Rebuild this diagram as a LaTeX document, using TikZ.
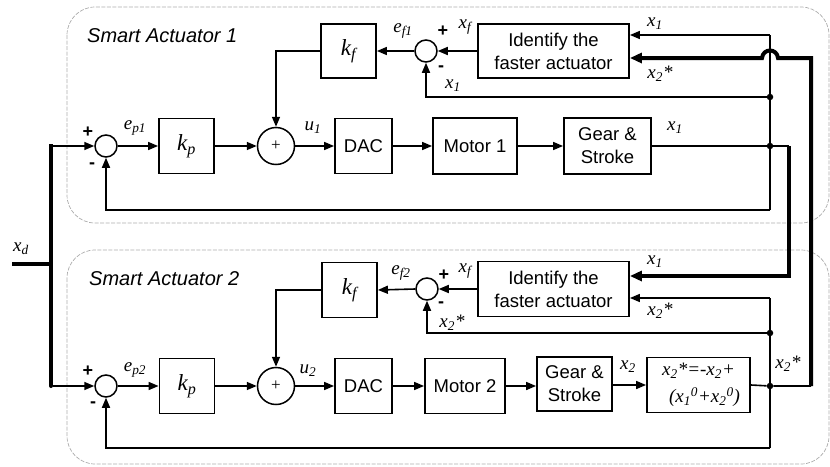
\documentclass[tikz,border=0pt]{standalone}
\usepackage{fontspec}
\setmainfont{Liberation Serif}
\setsansfont{Liberation Sans}
\usetikzlibrary{arrows.meta}
\tikzset{
  blk/.style={draw, line width=1.8pt, inner sep=0pt, align=center,
    font=\sffamily\fontsize{18.5}{23}\selectfont},
  kblk/.style={blk, font=\itshape\fontsize{23}{25}\selectfont},
  sumc/.style={draw, circle, line width=1.5pt, minimum size=22pt, inner sep=0pt},
  bigsum/.style={draw, circle, line width=1.5pt, minimum size=37pt, inner sep=0pt,
    font=\fontsize{17}{17}\selectfont},
  wire/.style={line width=1.6pt},
  sig/.style={wire, -{Triangle[length=10pt,width=8pt]}},
  bus/.style={line width=4pt},
  busarrow/.style={bus, -{Triangle[length=12pt,width=10pt]}},
  lab/.style={inner sep=0pt, font=\itshape\fontsize{19}{21}\selectfont},
  sgn/.style={inner sep=0pt, font=\sffamily\bfseries\fontsize{18}{20}\selectfont},
  title/.style={inner sep=0pt, anchor=west, font=\sffamily\itshape\fontsize{20}{22}\selectfont},
  grp/.style={draw=gray!65, line width=0.7pt, dash pattern=on 4pt off 1.5pt, rounded corners=28pt},
  jdot/.style={circle, fill, inner sep=0pt, minimum size=6.5pt},
  sdot/.style={circle, fill, inner sep=0pt, minimum size=4pt},
}
\begin{document}
\begin{tikzpicture}[x=1pt, y=-1pt]
\useasboundingbox (0,0) rectangle (830,466);

% groups
\draw[grp] (67,7) rectangle (829,223);
\draw[grp] (67,250) rectangle (829,464);
\node[title] (t1) at (87,36) {Smart Actuator 1};
\node[title] (t2) at (89,279) {Smart Actuator 2};

% ---------------- Actuator 1 ----------------
\node[sumc] (sA) at (106,146) {};
\node[kblk, minimum width=55pt, minimum height=55pt] (kpA) at (186.5,146) {k\textsubscript{p}};
\node[bigsum] (gA) at (276,146) {+};
\node[blk, minimum width=57pt, minimum height=55pt] (dacA) at (363.5,146) {DAC};
\node[blk, minimum width=84pt, minimum height=56pt] (motA) at (475,146) {Motor 1};
\node[blk, minimum width=87pt, minimum height=56pt] (gearA) at (607.5,146) {Gear \&\\Stroke};
\node[kblk, minimum width=55pt, minimum height=54pt] (kfA) at (348.5,51) {k\textsubscript{f}};
\node[sumc] (sfA) at (426,51) {};
\node[blk, minimum width=151pt, minimum height=54pt] (idA) at (553.5,51) {Identify the\\faster actuator};
\node[jdot] (jA1) at (770,146) {};
\node[jdot] (jA2) at (770,97) {};
\coordinate (topA) at (770,35);
\coordinate (botA) at (770,210);
\coordinate (busA) at (789,146);
\coordinate (inA) at (629,58);

% ---------------- Actuator 2 ----------------
\node[sumc] (sB) at (106,386) {};
\node[kblk, minimum width=55pt, minimum height=55pt] (kpB) at (187,386) {k\textsubscript{p}};
\node[bigsum] (gB) at (276,386) {+};
\node[blk, minimum width=57pt, minimum height=55pt] (dacB) at (363.5,386) {DAC};
\node[blk, minimum width=80pt, minimum height=55pt] (motB) at (465,386) {Motor 2};
\node[blk, minimum width=75pt, minimum height=54pt] (gearB) at (574.5,384) {Gear \&\\Stroke};
\node[blk, minimum width=103pt, minimum height=55pt, font=\itshape\fontsize{19}{27}\selectfont] (fmB) at (698.5,385)
  {x\textsubscript{2}*=-x\textsubscript{2}+\\\hspace*{12pt}(x\textsubscript{1}\textsuperscript{0}+x\textsubscript{2}\textsuperscript{0})};
\node[kblk, minimum width=55pt, minimum height=55pt] (kfB) at (349.5,290) {k\textsubscript{f}};
\node[sumc] (sfB) at (427,289) {};
\node[blk, minimum width=151pt, minimum height=55pt] (idB) at (553.5,289) {Identify the\\faster actuator};
\node[jdot] (jB1) at (770,386) {};
\node[jdot] (jB2) at (770,333) {};
\coordinate (topB) at (770,298);
\coordinate (botB) at (770,448);
\coordinate (busB) at (811,386);

% ---------------- x_d input ----------------
\coordinate (xdL) at (12,264);
\coordinate (xdM) at (51,264);
\coordinate (xdT) at (51,146);
\node[sdot] (xdB) at (51,386) {};
\draw[bus] (xdL) -- (xdM);
\draw[bus, line cap=rect] (xdT) -- (xdB);
\node[lab] (lxd) at (21,249) {x\textsubscript{d}};

% ---------------- wires actuator 1 ----------------
\draw[sig] (xdT) -- (sA.west);
\draw[sig] (sA) -- (kpA);
\draw[sig] (kpA) -- (gA);
\draw[sig] (gA) -- (dacA);
\draw[sig] (dacA) -- (motA);
\draw[sig] (motA) -- (gearA);
\draw[wire] (gearA.east) -- (jA1) -- (busA);
\draw[wire] (topA) -- (botA);
\draw[sig] (botA) -| (sA.south);
\draw[sig] (jA2) -| (sfA.south);
\draw[sig] (topA) -- (idA.east |- topA);
\draw[sig] (idA.west) -- (sfA.east);
\draw[sig] (sfA.west) -- (kfA.east);
\draw[sig] (kfA.west) -| (gA.north);

% ---------------- wires actuator 2 ----------------
\draw[sig] (xdB) -- (sB.west);
\draw[sig] (sB) -- (kpB);
\draw[sig] (kpB) -- (gB);
\draw[sig] (gB) -- (dacB);
\draw[sig] (dacB) -- (motB);
\draw[sig] (motB) -- (gearB.west |- motB);
\draw[sig] (gearB.east |- fmB) -- (fmB.west);
\draw[wire] (fmB.east) -- (jB1) -- (busB);
\draw[wire] (topB) -- (botB);
\draw[sig] (botB) -| (sB.south);
\draw[sig] (jB2) -| (sfB.south);
\draw[sig] (topB) -- (idB.east |- topB);
\draw[sig] (idB.west) -- (sfB.east);
\draw[sig] (sfB.west) -- (kfB.east);
\draw[sig] (kfB.west) -| (gB.north);

% ---------------- cross buses ----------------
\draw[busarrow, line join=miter] (busA) -- (789,276) -- (idB.east |- 0,276);
\draw[busarrow, line join=miter] (busB) -- (811,58) -- (778,58)
  .. controls (777,48) and (763,48) .. (762,58) -- (idA.east |- inA);

% ---------------- labels actuator 1 ----------------
\node[sgn] (pA) at (88,132) {+};
\node[sgn] (mA) at (92,166) {-};
\node[lab] (epA) at (135,128) {e\textsubscript{p1}};
\node[lab] (uA) at (313,128) {u\textsubscript{1}};
\node[lab] (efA) at (403,31) {e\textsubscript{f1}};
\node[sgn] (pfA) at (443,31) {+};
\node[lab] (xfA) at (465,27) {x\textsubscript{f}};
\node[sgn] (mfA) at (441,69) {-};
\node[lab] (x1fA) at (453,86) {x\textsubscript{1}};
\node[lab] (x1iA) at (655,24) {x\textsubscript{1}};
\node[lab] (x2iA) at (660,74) {x\textsubscript{2}*};
\node[lab] (x1oA) at (675,128) {x\textsubscript{1}};

% ---------------- labels actuator 2 ----------------
\node[sgn] (pB) at (88,371) {+};
\node[sgn] (mB) at (93,405) {-};
\node[lab] (epB) at (135,370) {e\textsubscript{p2}};
\node[lab] (uB) at (308,371) {u\textsubscript{2}};
\node[lab] (efB) at (401,273) {e\textsubscript{f2}};
\node[sgn] (pfB) at (444,275) {+};
\node[lab] (xfB) at (465,271) {x\textsubscript{f}};
\node[sgn] (mfB) at (441,305) {-};
\node[lab] (x2fB) at (452,323) {x\textsubscript{2}*};
\node[lab] (x1iB) at (655,262) {x\textsubscript{1}};
\node[lab] (x2iB) at (660,311) {x\textsubscript{2}*};
\node[lab] (x2gB) at (628,367) {x\textsubscript{2}};
\node[lab] (x2oB) at (788,364) {x\textsubscript{2}*};
\end{tikzpicture}
\end{document}
